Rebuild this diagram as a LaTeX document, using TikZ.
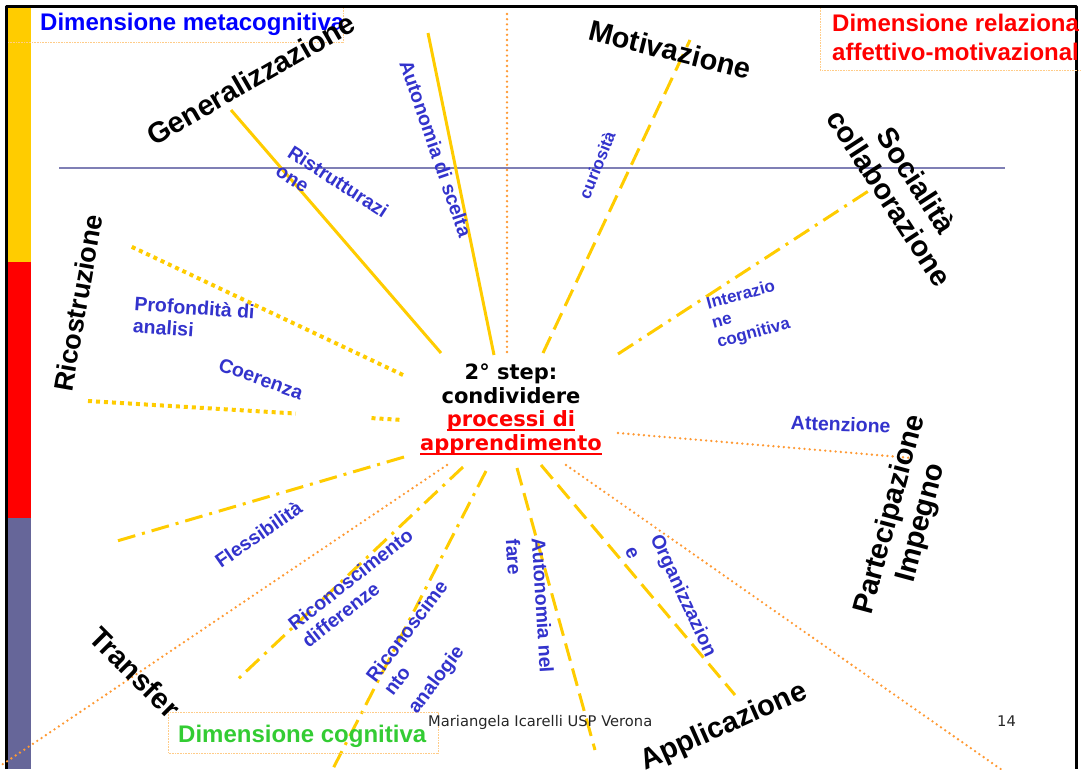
\documentclass[tikz,border=0pt]{standalone}
\usepackage{fontspec}
\setmainfont{Liberation Sans}
\newfontfamily\verd{DejaVu Sans}
\usetikzlibrary{calc}
\definecolor{ylw}{HTML}{FFCC00}
\definecolor{orng}{HTML}{FF9933}
\definecolor{blu}{HTML}{3333CC}
\definecolor{slate}{HTML}{666699}
\definecolor{hln}{HTML}{7F7FB5}
\definecolor{grn}{HTML}{33CC33}
\definecolor{boxor}{HTML}{FFCC88}
\newcommand\ulred[1]{\setbox0\hbox{#1}\rlap{\rule[-4.5pt]{\wd0}{2pt}}\box0}
\begin{document}
\begin{tikzpicture}[x=1pt,y=-1pt,line join=round,
  big/.style={inner sep=0,font=\bfseries\fontsize{29}{32}\selectfont},
  lab/.style={inner sep=0,text=blu,align=left,font=\bfseries\fontsize{19.5}{22}\selectfont},
  labs/.style={lab,font=\bfseries\fontsize{17}{20}\selectfont},
  hdr/.style={inner sep=0,align=left,font=\bfseries\fontsize{24}{29}\selectfont},
  foot/.style={inner sep=0,text=black!85,font=\verd\fontsize{14.7}{17}\selectfont},
  boxln/.style={draw=boxor,line width=0.8pt,dash pattern=on 0.8pt off 0.8pt},
  ray/.style={draw=ylw,line width=3pt},
  raydash/.style={ray,dash pattern=on 18pt off 8pt},
  raydd/.style={ray,dash pattern=on 18pt off 7pt on 3pt off 7pt},
  raysq/.style={draw=ylw,line width=4pt,dash pattern=on 4pt off 4pt},
  rayor/.style={draw=orng,line width=2.6pt,line cap=round,dash pattern=on 0pt off 5.2pt}]
\useasboundingbox (0,0) rectangle (1081,769);
\clip (0,0) rectangle (1081,769);
% banda laterale
\fill[ylw] (7,8) rectangle (31,262);
\fill[red] (7,262) rectangle (31,518);
\fill[slate] (7,518) rectangle (31,769);
% cornice
\draw[line width=3pt] (6.5,769) -- (6.5,6.5) -- (1076.5,6.5) -- (1076.5,769);
% linea orizzontale
\draw[hln,line width=2pt] (59,168) -- (1005,168);
% centro
\node[inner sep=0,align=center,anchor=north,font=\verd\bfseries\fontsize{21}{23.5}\selectfont] (ctr) at (511,364)
  {2° step:\\condividere\\\textcolor{red}{\ulred{processi di}}\\\textcolor{red}{\ulred{apprendimento}}};
% estremi dei raggi
\path (441,353) coordinate (gen-i) (231,110) coordinate (gen-o)
  (494,355) coordinate (aut-i) (428,33) coordinate (aut-o)
  (507,352) coordinate (ver-i) (507,9) coordinate (ver-o)
  (543,353) coordinate (mot-i) (690,40) coordinate (mot-o)
  (618,354) coordinate (int-i) (870,190) coordinate (int-o)
  (618,433) coordinate (att-i) (912,458) coordinate (att-o)
  (566,465) coordinate (app-i) (1012,777) coordinate (app-o)
  (541,465) coordinate (orz-i) (735,695) coordinate (orz-o)
  (517,468) coordinate (anf-i) (595,750) coordinate (anf-o)
  (486,471) coordinate (ran-i) (322,790) coordinate (ran-o)
  (463,467) coordinate (rdi-i) (237,680) coordinate (rdi-o)
  (447,465) coordinate (tra-i) (0,766) coordinate (tra-o)
  (404,457) coordinate (fle-i) (117,541) coordinate (fle-o)
  (403,420) coordinate (coe-i) (88,401) coordinate (coe-o)
  (403,375) coordinate (pro-i) (130,246) coordinate (pro-o);
% raggi
\draw[ray] (gen-i) -- (gen-o);
\draw[ray] (aut-i) -- (aut-o);
\draw[rayor] (ver-i) -- (ver-o);
\draw[raydash] (mot-i) -- (mot-o);
\draw[raydd] (int-i) -- (int-o);
\draw[rayor] (att-i) -- (att-o);
\draw[rayor] (app-i) -- (app-o);
\draw[raydash] (orz-i) -- (orz-o);
\draw[raydash] (anf-i) -- (anf-o);
\draw[raydd] (ran-i) -- (ran-o);
\draw[raydd] (rdi-i) -- (rdi-o);
\draw[rayor] (tra-i) -- (tra-o);
\draw[raydd] (fle-i) -- (fle-o);
\draw[raysq] (coe-o) -- ($(coe-o)!0.66!(coe-i)$) ($(coe-o)!0.9!(coe-i)$) -- (coe-i);
\draw[raysq] (pro-i) -- (pro-o);
% dimensioni
\node[hdr,text=blue,anchor=base west] (dmeta) at (40,30) {Dimensione metacognitiva};
\draw[boxln] (8,42) -| (343,8);
\node[hdr,text=red,anchor=north west] (drel) at (832,13.5) {Dimensione relaziona\\affettivo-motivazional};
\draw[boxln] (820,8) |- (1081,70);
\draw[boxln] (168,712) rectangle (438,753);
\node[hdr,text=grn,anchor=base west] (dcog) at (178,742) {Dimensione cognitiva};
% voci principali
\node[big,rotate=30,anchor=base west] (gen) at (154,147) {Generalizzazione};
\node[big,rotate=-14,anchor=north west] (mot) at (592,19) {Motivazione};
\node[big,rotate=-57,align=center] (soc) at (903,189) {Socialità\\collaborazione};
\node[big,rotate=80,font=\bfseries\fontsize{27}{30}\selectfont] (ric) at (78,303) {Ricostruzione};
\node[big,rotate=75,align=center] (par) at (906,519) {Partecipazione\\Impegno};
\node[big,rotate=-45,anchor=north west] (tra) at (102,624) {Transfer};
\node[big,rotate=24] (app) at (724,727) {Applicazione};
% voci secondarie
\node[lab,rotate=-33,anchor=north west] (ris) at (294,144) {Ristrutturazi\\one};
\node[lab,rotate=-71,anchor=base west] (aut) at (399,63) {Autonomia di scelta};
\node[labs,rotate=68] (cur) at (597,165) {curiosità};
\node[labs,rotate=15,anchor=north west] (int) at (705,297) {Interazio\\ne\\cognitiva};
\node[lab,rotate=-2,anchor=north west] (att) at (791,415) {Attenzione};
\node[lab,rotate=-4,anchor=north west] (pro) at (135,296) {Profondità di\\analisi};
\node[lab,rotate=-20,anchor=north west] (coe) at (222,357) {Coerenza};
\node[lab,rotate=35,anchor=base west] (fle) at (221,569) {Flessibilità};
\node[lab,rotate=38,anchor=north west] (rdi) at (286,620) {Riconoscimento\\differenze};
\node[lab,rotate=53,anchor=north west] (ran) at (364,675) {Riconoscime\\nto\\[8pt]analogie};
\node[lab,rotate=-86.5,anchor=north west] (anf) at (546,537) {Autonomia nel\\[4pt]fare};
\node[lab,rotate=-65,anchor=north west] (orz) at (663,532) {Organizzazion\\[6pt]e};
% pie di pagina
\node[foot,anchor=base west] (auth) at (428,726) {Mariangela Icarelli USP Verona};
\node[foot,anchor=base west] (pg) at (997,726) {14};
\end{tikzpicture}
\end{document}
